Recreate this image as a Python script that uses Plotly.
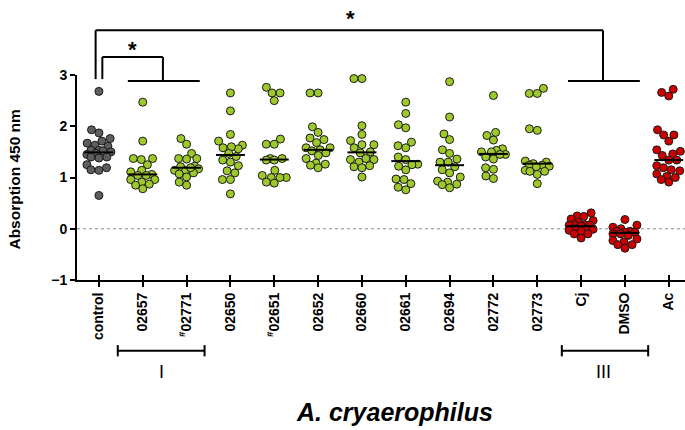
import plotly.graph_objects as go
import numpy as np

# ---------------- data ----------------
categories = ["control", "02657", "<sup>#</sup>02771", "02650", "<sup>#</sup>02651",
              "02652", "02660", "02661", "02694", "02772", "02773", "Cj", "DMSO", "Ac"]

v_control = [2.68, 1.93, 1.87, 1.76, 1.71, 1.67, 1.63, 1.61, 1.53, 1.53, 1.50, 1.52,
             1.47, 1.45, 1.40, 1.38, 1.40, 1.25, 1.15, 1.14, 1.19, 0.65]
v_02657 = [2.47, 1.71, 1.37, 1.37, 1.35, 1.25, 1.14, 1.11, 1.06, 1.04, 1.04, 0.96,
           0.96, 0.91, 0.87, 0.85, 0.78]
v_02771 = [1.76, 1.65, 1.47, 1.37, 1.36, 1.37, 1.22, 1.21, 1.14, 1.14, 1.17, 1.09,
           1.07, 1.01, 0.85, 0.91, 1.19]
v_02650 = [2.65, 2.30, 1.84, 1.71, 1.63, 1.58, 1.56, 1.60, 1.47, 1.41, 1.34, 1.30,
           1.23, 1.13, 1.09, 0.96, 0.96, 0.68]
v_02651 = [2.76, 2.65, 2.65, 2.50, 1.75, 1.65, 1.65, 1.37, 1.37, 1.34, 1.34, 1.14,
           1.04, 1.00, 1.00, 1.00, 0.91, 0.89]
v_02652 = [2.65, 2.65, 1.99, 1.88, 1.77, 1.74, 1.68, 1.58, 1.58, 1.54, 1.52, 1.48,
           1.43, 1.37, 1.28, 1.26, 1.24, 1.19]
v_02660 = [2.93, 2.93, 2.01, 1.84, 1.72, 1.64, 1.64, 1.58, 1.50, 1.48, 1.37, 1.35,
           1.35, 1.30, 1.23, 1.21, 1.19, 1.01]
v_02661 = [2.47, 2.25, 2.03, 1.97, 1.69, 1.62, 1.58, 1.40, 1.35, 1.26, 1.25, 1.22,
           1.15, 0.97, 0.96, 0.88, 0.81, 0.76]
v_02694 = [2.87, 2.18, 1.85, 1.74, 1.54, 1.47, 1.36, 1.30, 1.30, 1.21, 1.15, 1.09,
           1.01, 0.93, 0.91, 0.87, 0.86, 0.80]
v_02772 = [2.60, 1.88, 1.82, 1.73, 1.56, 1.53, 1.50, 1.50, 1.45, 1.45, 1.40, 1.36,
           1.19, 1.16, 1.03, 0.98]
v_02773 = [2.74, 2.64, 2.64, 1.95, 1.92, 1.32, 1.30, 1.27, 1.24, 1.24, 1.22, 1.21,
           1.14, 1.12, 1.12, 1.06, 0.88]
v_cj = [0.31, 0.25, 0.24, 0.19, 0.16, 0.13, 0.08, 0.08, 0.07, 0.07, 0.05, 0.00,
        0.00, 0.00, -0.01, -0.03, -0.05, -0.10, -0.10, -0.18]
v_dmso = [0.18, 0.07, 0.03, 0.00, -0.05, -0.05, -0.07, -0.07, -0.10, -0.10, -0.13,
          -0.20, -0.23, -0.26, -0.31, -0.31, -0.38]
v_ac = [2.72, 2.66, 2.59, 1.93, 1.83, 1.83, 1.71, 1.54, 1.51, 1.46, 1.43, 1.34,
        1.34, 1.23, 1.19, 1.15, 1.13, 1.07, 1.02, 1.00, 0.96, 0.91]

medians = [1.49, 1.06, 1.19, 1.44, 1.35, 1.54, 1.49, 1.32, 1.24, 1.46, 1.27, 0.05, -0.08, 1.34]

series = [v_control, v_02657, v_02771, v_02650, v_02651, v_02652, v_02660, v_02661,
          v_02694, v_02772, v_02773, v_cj, v_dmso, v_ac]

y_ticks = [-1, 0, 1, 2, 3]
y_title = "Absorption 450 nm"
x_title = "A. cryaerophilus"
group_labels = ["I", "III"]

# ---------------- styling / geometry ----------------
W, H = 685, 430
ML, MR, MT, MB = 77, 0, 75, 150
XR = [-0.5, 13.37]
YR = [-1, 3]
GRAY, GREEN, RED = "#5e5e5e", "#9ec92a", "#cc0000"
colors = [GRAY] + [GREEN] * 10 + [RED] * 3
FONT = "Liberation Sans, Arial, sans-serif"

pw = W - ML - MR
ph = H - MT - MB
px_x = pw / (XR[1] - XR[0])
px_y = ph / (YR[1] - YR[0])


def px(xc):   # category -> paper
    return (xc - XR[0]) / (XR[1] - XR[0])


def py(yv):   # data -> paper
    return (yv - YR[0]) / (YR[1] - YR[0])


def swarm(vals, d=8.0, maxw=12.0):
    order = np.argsort(vals)
    placed = []
    offs = np.zeros(len(vals))
    grid = list(np.linspace(-maxw, maxw, 25))
    for i in order:
        yv = vals[i] * px_y
        cands = [0.0]
        for (xo, yo) in placed:
            dy = abs(yv - yo)
            if dy < d:
                dx = np.sqrt(d * d - dy * dy)
                cands += [xo + dx, xo - dx]
        cands = [c for c in cands if abs(c) <= maxw + 1e-9]
        cands = sorted(set(cands), key=lambda c: (abs(c), c))
        chosen = None
        for c in cands:
            if all((c - xo) ** 2 + (yv - yo) ** 2 >= d * d - 1e-6 for xo, yo in placed):
                chosen = c
                break
        if chosen is None:
            best, bestd = 0.0, -1
            for c in sorted(grid, key=lambda c: (abs(c), c)):
                md = min((c - xo) ** 2 + (yv - yo) ** 2 for xo, yo in placed)
                if md > bestd + 1e-6:
                    best, bestd = c, md
            chosen = best
        placed.append((chosen, yv))
        offs[i] = chosen
    return offs / px_x


fig = go.Figure()

for i, vals in enumerate(series):
    offs = swarm(vals)
    fig.add_trace(go.Scatter(
        x=i + offs, y=vals, mode="markers", cliponaxis=False,
        marker=dict(size=8, color=colors[i], line=dict(color="#1a1a1a", width=1)),
        showlegend=False, hoverinfo="skip"))

for i, m in enumerate(medians):
    fig.add_trace(go.Scatter(
        x=[i - 0.33, i + 0.33], y=[m, m], mode="lines", cliponaxis=False,
        line=dict(color="black", width=2), showlegend=False, hoverinfo="skip"))

# invisible trace for the overlay axis (inside half of crossing ticks)
fig.add_trace(go.Scatter(x=[0], y=[None], xaxis="x2", showlegend=False, hoverinfo="skip"))

fig.update_layout(
    width=W, height=H, margin=dict(l=ML, r=MR, t=MT, b=MB),
    paper_bgcolor="white", plot_bgcolor="white",
    font=dict(family=FONT, color="black"),
    xaxis=dict(range=XR, tickmode="array", tickvals=list(range(len(categories))),
               ticktext=categories, tickangle=-90, ticks="outside", ticklen=5,
               tickwidth=2, tickcolor="black", showline=True, linewidth=2,
               linecolor="black", showgrid=False, zeroline=False,
               tickfont=dict(size=14, weight="bold", family=FONT)),
    xaxis2=dict(range=XR, overlaying="x", anchor="y", side="bottom",
                tickmode="array", tickvals=list(range(len(categories))),
                ticks="inside", ticklen=5, tickwidth=2, tickcolor="black",
                showticklabels=False, showline=False, showgrid=False, zeroline=False),
    yaxis=dict(range=YR, tickmode="array", tickvals=y_ticks, ticks="outside",
               ticklen=5, tickwidth=2, tickcolor="black", showline=True,
               linewidth=2, linecolor="black", showgrid=False, zeroline=False,
               tickfont=dict(size=14, weight="bold", family=FONT)),
)

shapes = []
LW = 2
# dotted zero line
shapes.append(dict(type="line", xref="paper", yref="paper", x0=0, x1=1,
                   y0=py(0), y1=py(0), line=dict(color="#888888", width=1, dash="dot"),
                   layer="below"))


def seg(x0, y0, x1, y1):
    shapes.append(dict(type="line", xref="paper", yref="paper",
                       x0=px(x0), x1=px(x1), y0=py(y0), y1=py(y1),
                       line=dict(color="black", width=LW)))


# big significance bracket
seg(-0.075, 3.873, 11.5, 3.873)
seg(-0.075, 3.873, -0.075, 2.92)
seg(11.5, 3.873, 11.5, 2.885)
seg(10.7, 2.885, 12.34, 2.885)
# small significance bracket
seg(0.078, 3.352, 1.46, 3.352)
seg(0.078, 3.352, 0.078, 2.92)
seg(1.46, 3.352, 1.46, 2.885)
seg(0.66, 2.885, 2.3, 2.885)

# group brackets below axis
gy = -2.38
for (a, b) in [(0.43, 2.41), (10.56, 12.53)]:
    seg(a, gy, b, gy)
    seg(a, gy + 0.11, a, gy - 0.11)
    seg(b, gy + 0.11, b, gy - 0.11)

fig.update_layout(shapes=shapes)


def note(text, x, y, size, bold=False, angle=0):
    f = dict(size=size, family=FONT)
    if bold:
        f["weight"] = "bold"
    return dict(text=text, x=x, y=y, xref="paper", yref="paper", showarrow=False,
                xanchor="center", yanchor="middle", textangle=angle, font=f)


ann = [
    note("*", px(0.77), py(3.49), 22, bold=True),
    note("*", px(5.73), py(4.10), 22, bold=True),
    note(group_labels[0], px(1.42), py(-2.79), 18),
    note(group_labels[1], px(11.52), py(-2.79), 18),
    note(y_title, (15 - ML) / pw, 0.49, 15.5, bold=True, angle=-90),
    note("<i>" + x_title + "</i>", (394 - ML) / pw, (H - MB - 412) / ph, 25, bold=True),
]
fig.update_layout(annotations=ann)

fig.write_html("out.html")
